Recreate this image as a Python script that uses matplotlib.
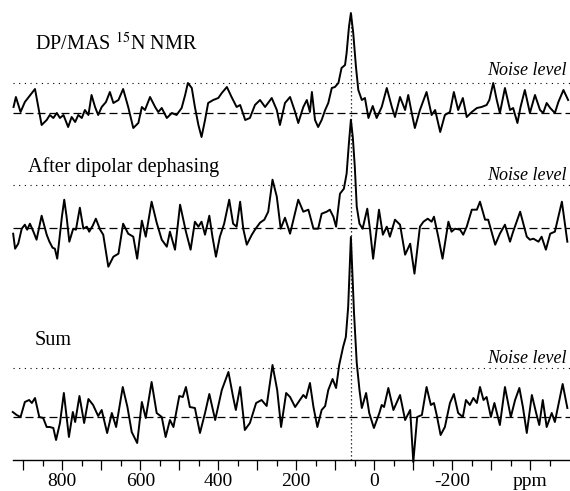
import matplotlib
matplotlib.use('Agg')
import matplotlib.pyplot as plt
from matplotlib.ticker import FixedLocator, FixedFormatter

plt.rcParams['font.family'] = ['Liberation Serif', 'DejaVu Serif']
plt.rcParams['mathtext.fontset'] = 'stix'

# ---------------- data (ppm, intensity) ----------------
top_ppm = [925, 919, 907, 896, 870, 853, 840, 832, 823, 814, 806, 797, 785, 776, 767,
           759, 750, 742, 733, 725, 716, 708, 699, 688, 678, 669, 656, 644, 631, 618,
           605, 596, 588, 575, 562, 554, 545, 532, 519, 507, 494, 485, 478, 468, 460,
           451, 443, 434, 426, 413, 400, 391, 378, 366, 353, 344, 331, 319, 306, 293,
           280, 263, 250,
           242, 229, 216, 203, 195, 182, 173, 165, 160, 152, 144, 135, 126, 118, 109,
           101, 92, 84, 75, 71, 65, 60, 54, 47, 41, 32, 24, 15, 4, -6,
           -19, -32, -45, -53, -66, -79, -87, -96, -104, -117, -134, -147, -156, -169, -181,
           -194, -204, -215, -227, -237, -250, -263, -275, -288, -295, -305, -314, -322, -335, -348,
           -356, -367, -375, -386, -399, -412, -425, -433, -442, -451, -463, -472, -485, -497]
top_int = [6, 16, 1, 11, 24, -12, -7, -2, -5, 0, -5, -2, -14, -4, -9,
           -2, -5, 3, -2, 18, 6, -2, 6, 11, 21, 10, 13, 24, 6, -15,
           -10, 6, 3, 16, 6, 1, 5, -5, 0, -2, 5, 18, 30, 25, 6,
           -12, -24, -7, 10, 13, 15, 20, 26, 16, 6, 8, -7, -5, 8, 13,
           6, 15, 3,
           -12, 10, 16, 1, -10, 6, 13, 1, 21, -7, -14, -7, 3, 10, 25,
           26, 30, 45, 48, 60, 86, 100, 80, 46, 23, 13, 15, -5, 7, -5,
           6, 25, 6, -4, 16, 3, 18, 0, -15, 3, 21, -2, 3, -19, -2,
           1, 21, 3, 15, -4, 1, 5, 6, 8, 13, 30, 13, 0, 25, 3,
           5, -10, 6, 23, 0, 18, 3, 0, 10, 5, 0, 11, 23, 13]

mid_ppm = [926, 921, 913, 904, 896, 890, 883, 874, 866, 853, 840, 833, 825, 819, 813,
           801, 795, 789, 782, 772, 765, 755, 746, 737, 731, 722, 714, 703, 695, 682,
           669, 656, 644, 631, 618, 608, 596, 586, 571, 558, 545, 532, 524, 511, 498,
           483, 471, 460, 451, 443, 434, 423, 415, 406, 396, 385, 372, 362, 353, 344,
           336, 327, 314, 306, 293, 282, 272, 261, 250, 240, 229, 216, 195, 182,
           169, 156, 144, 135, 122, 114, 105, 98, 88, 78, 71, 65, 60, 55, 50,
           45, 38, 30, 18, 11, 3, -12, -22, -32, -40, -53, -66, -79, -92, -103,
           -117, -126, -137, -147, -153, -164, -175, -190, -198, -207, -220, -228, -237, -250, -263,
           -271, -284, -292, -310, -322, -335, -348, -356, -374, -391, -399, -408, -421, -429, -440,
           -451, -463, -481, -495]
mid_int = [-6, -21, -16, -1, 3, -2, 4, -4, -12, 12, -7, -14, -20, -21, -31,
           11, 28, 11, -14, -1, -2, 20, -1, 1, -4, 2, 9, -2, -7, -39,
           -29, -26, 4, -6, -9, -31, 7, -9, 26, 5, -12, -19, -4, -22, 23,
           -4, -22, 6, 1, 6, -7, 12, -9, -29, -9, 4, 28, 4, 1, 26,
           -1, -17, -7, -2, 5, 8, 16, 48, 31, -1, 10, -6, 28, 16,
           18, -1, -1, 14, 16, 18, 11, 1, 34, 39, 54, 85, 108, 90, 61,
           21, 4, -1, 19, -2, -31, 18, -7, 1, -9, 8, 3, -27, -16, -46,
           1, 6, 9, 6, 11, -9, -31, 6, -4, -1, -2, -7, 1, 18, 18,
           26, 8, 8, -17, -6, 3, -14, -4, 16, -9, -12, -11, -14, -9, -22,
           -6, -4, 26, -14]

bot_ppm = [927, 917, 907, 896, 885, 878, 870, 859, 849, 840, 832, 823, 816, 806, 796,
           783, 773, 767, 756, 744, 733, 721, 708, 699, 685, 673, 662, 645, 633, 622,
           608, 596, 586, 571, 558, 545, 535, 524, 515, 500, 491, 483, 473, 460, 447,
           434, 423, 408, 391, 374, 362, 355, 344, 332, 319, 303, 289, 276, 261, 249,
           239, 226, 216, 203, 182, 175, 165, 156, 146, 135, 126, 118, 107, 98, 90,
           80, 73, 67, 60, 52, 45, 38, 32, 21, 13, 1, -13, -19, -25, -36,
           -49, -66, -79, -92, -100, -110, -122, -134, -145, -153, -160, -170, -181, -194, -204,
           -215, -227, -235, -245, -254, -263, -271, -280, -288, -299, -308, -322, -335, -350, -361,
           -372, -381, -391, -404, -415, -423, -432, -442, -455, -463, -483, -495]
bot_int = [5, 2, 0, 15, 17, 14, 19, 0, -1, -10, -10, -11, -23, -6, 24,
           -20, 5, -5, 21, -6, 18, 12, 1, 7, -16, 4, -10, 30, 10, -15,
           -26, 15, -1, 35, 4, 0, -20, -3, -10, 21, 20, 30, 10, 9, -16,
           4, 23, -3, 27, 45, 20, 7, 30, -13, -6, 14, 17, 11, 52, 27,
           -10, 24, 20, 10, 22, 19, 34, 10, -10, 7, 11, 27, 38, 29, 52,
           70, 80, 110, 180, 104, 54, 27, 9, 24, 4, -11, 4, 12, 10, 29,
           7, 22, -3, 7, -45, 0, 2, 30, 12, 14, 2, -18, -10, 14, 23,
           4, 0, 17, 12, 19, 14, 30, 17, 20, 0, 14, -8, 30, 0, 17,
           29, 10, -16, 22, 4, -8, 17, -10, 4, -5, 33, 9]

labels = ['DP/MAS $^{15}$N NMR', 'After dipolar dephasing', 'Sum']
noise_levels = [30, 42.7, 49]
peak_ppm = 60

tick_major = [900, 800, 700, 600, 500, 400, 300, 200, 100, 0, -100, -200, -300, -400]
tick_labels = ['', '800', '', '600', '', '400', '', '200', '', '0', '', '-200', '', 'ppm']
tick_minor = [850, 750, 650, 550, 450, 350, 250, 150, 50, -50, -150, -250, -350, -450]

# ---------------- layout ----------------
W, H = 570, 491
fig = plt.figure(figsize=(W / 100, H / 100), dpi=100)
ax = fig.add_axes([13 / W, 31 / H, 1 - 13 / W, 460 / H])
ax.set_xlim(926.4, -501.8)
ax.set_ylim(0, 460)

baselines = [347, 232.3, 43]
label_pos = [(870, 410), (888, 288.3), (870, 115)]
noise_text_y = [385, 280, 97.3]

series = [(top_ppm, top_int), (mid_ppm, mid_int), (bot_ppm, bot_int)]
for (xs, ys), base, nl, lab, lp, nty in zip(series, baselines, noise_levels,
                                           labels, label_pos, noise_text_y):
    ax.axhline(base, color='black', lw=0.9, ls=(0, (6.4, 3.2)), zorder=1)
    ax.axhline(base + nl, color='black', lw=0.8, ls=(0, (1, 4.1)), zorder=1)
    ax.plot(xs, [base + v for v in ys], color='black', lw=1.4, clip_on=False,
            solid_joinstyle='round', zorder=3)
    ax.text(lp[0], lp[1], lab, fontsize=14.5, ha='left', va='baseline')
    ax.text(-494, nty, 'Noise level', fontsize=13, style='italic',
            ha='right', va='baseline')

top_peak = baselines[0] + max(top_int)
ax.plot([peak_ppm, peak_ppm], [0, top_peak], color='black', lw=0.9,
        ls=(0, (1, 2.2)), zorder=2)

for s in ['left', 'right', 'top']:
    ax.spines[s].set_visible(False)
ax.spines['bottom'].set_linewidth(1.0)
ax.set_yticks([])
ax.xaxis.set_major_locator(FixedLocator(tick_major))
ax.xaxis.set_major_formatter(FixedFormatter(tick_labels))
ax.xaxis.set_minor_locator(FixedLocator(tick_minor))
ax.tick_params(axis='x', which='major', length=7, width=0.9, labelsize=14, pad=2)
ax.tick_params(axis='x', which='minor', length=4, width=0.9)

fig.savefig('out.png', dpi=100)
